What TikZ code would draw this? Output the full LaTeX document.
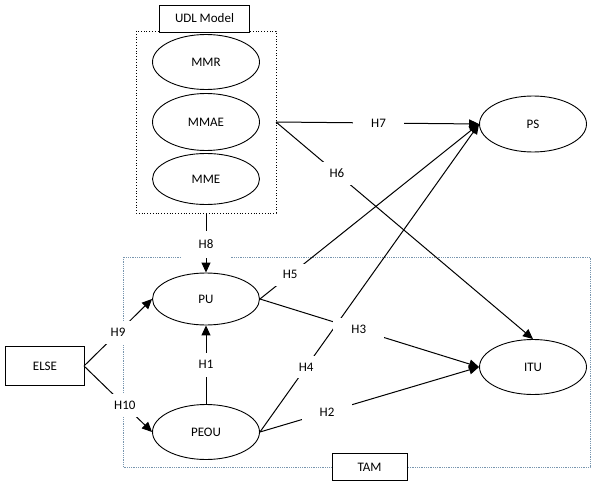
\documentclass[tikz,border=0pt]{standalone}
\usepackage{fontspec}
\setmainfont{Carlito}
\usetikzlibrary{shapes.geometric,arrows.meta}
\definecolor{tamblue}{RGB}{120,150,175}
\begin{document}
\begin{tikzpicture}[x=1pt,y=-1pt,
  every node/.style={font=\fontsize{13}{15}\selectfont},
  ell/.style={draw,ellipse,minimum width=107pt,minimum height=55pt,inner sep=0pt,line width=0.9pt},
  boxn/.style={draw,rectangle,fill=white,line width=0.9pt,inner sep=0pt},
  lbl/.style={fill=white,inner xsep=18pt,inner ysep=7pt},
  conn/.style={line width=1pt},
  arr/.style={conn,-{Triangle[length=10pt,width=9pt]}}]
\useasboundingbox (0,0) rectangle (594,487);
% containers
\draw[dotted,line width=0.8pt] (136,31) rectangle (276,213);
\draw[densely dotted,tamblue,line width=0.8pt] (123,257) rectangle (590,467);
\node[boxn,minimum width=90pt,minimum height=27pt] (udl) at (204.5,18.5) {UDL Model};
\node[boxn,minimum width=75pt,minimum height=27pt] (tam) at (369.5,467) {TAM};
\coordinate (udlR) at (276,122);
\coordinate (udlB) at (206,213);
% nodes
\node[ell] (mmr) at (206,62) {MMR};
\node[ell,minimum height=57pt] (mmae) at (206,122) {MMAE};
\node[ell,minimum height=51pt] (mme) at (206,179) {MME};
\node[ell,minimum height=52pt] (pu) at (206,299) {PU};
\node[ell] (peou) at (206,432) {PEOU};
\node[ell,minimum height=56pt] (ps) at (533,124) {PS};
\node[ell] (itu) at (533,367) {ITU};
\node[boxn,minimum width=79pt,minimum height=39pt] (else) at (45,366) {ELSE};
\coordinate (elseR) at (84,366);
% connectors
\draw[arr] (udlR) -- node[lbl,pos=0.505] {H7} (ps.west);
\draw[arr] (udlR) -- node[lbl,pos=0.237] {H6} (itu.north);
\draw[arr] (udlB) -- node[lbl,pos=0.53,inner ysep=9pt] {H8} (pu.north);
\draw[arr] (pu.east) -- node[lbl,pos=0.138] {H5} (ps.west);
\draw[arr] (peou.east) -- node[lbl,pos=0.211] {H4} (ps.west);
\draw[arr] (pu.east) -- node[lbl,pos=0.451] {H3} (itu.west);
\draw[arr] (peou.east) -- node[lbl,pos=0.306] {H2} (itu.west);
\draw[arr] (peou.north) -- node[lbl,pos=0.5,inner ysep=8pt] {H1} (pu.south);
\draw[arr] (elseR) -- node[lbl,pos=0.5] {H9} (pu.west);
\draw[arr] (elseR) -- node[lbl,pos=0.6,inner xsep=14pt] {H10} (peou.west);
\end{tikzpicture}
\end{document}
